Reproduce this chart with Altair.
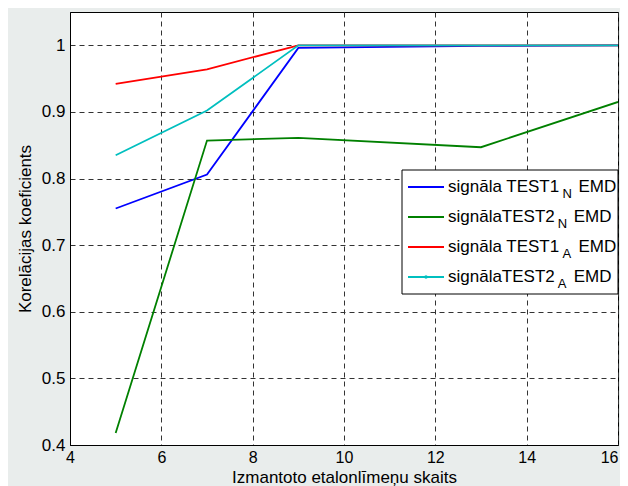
import altair as alt
import pandas as pd

# ---- data ----
counts = [5, 7, 9, 13, 16]
test1_n = [0.755, 0.806, 0.996, 0.999, 1.0]
test2_n = [0.418, 0.857, 0.861, 0.847, 0.915]
test1_a = [0.942, 0.964, 1.0, 1.0, 1.0]
test2_a = [0.835, 0.902, 1.0, 1.0, 1.0]

series_keys = ["TEST1_N", "TEST2_N", "TEST1_A", "TEST2_A"]
series_colors = ["#0000ff", "#008000", "#ff0000", "#00bfbf"]
legend_main = ["signāla TEST1", "signālaTEST2", "signāla TEST1", "signālaTEST2"]
legend_sub = ["N", "N", "A", "A"]
legend_tail = ["EMD", "EMD", "EMD", "EMD"]

x_ticks = [4, 6, 8, 10, 12, 14, 16]
y_ticks = [0.4, 0.5, 0.6, 0.7, 0.8, 0.9, 1.0]

x_title = "Izmantoto etalonlīmeņu skaits"
y_title = "Korelācijas koeficients"

# ---- layout / style ----
W, H = 548, 433
FONT = "Arial, Liberation Sans, sans-serif"
BG = "#e9edec"

x_scale = alt.Scale(domain=[4, 16], nice=False, zero=False)
y_scale = alt.Scale(domain=[0.4, 1.05], nice=False, zero=False)

x_axis = alt.Axis(
    values=x_ticks, title=x_title, grid=True, gridDash=[5, 4], gridColor="#333333",
    gridOpacity=1, gridWidth=1, tickSize=0, domainColor="black", domainWidth=1,
    labelFont=FONT, labelFontSize=16, labelColor="black", labelPadding=4,
    labelOverlap=False, labelFlush=False,
    labelAlign={"condition": {"test": "datum.value >= 16", "value": "right"}, "value": "center"},
    titleFont=FONT, titleFontSize=17, titleFontWeight="normal", titleColor="black",
    titleY=37, titleBaseline="alphabetic",
)
y_axis = alt.Axis(
    values=y_ticks, format="~g", title=y_title, grid=True, gridDash=[5, 4],
    gridColor="#333333", gridOpacity=1, gridWidth=1, tickSize=0, domainColor="black",
    domainWidth=1, labelFont=FONT, labelFontSize=17, labelColor="black", labelPadding=5,
    labelOverlap=False, labelFlush=False,
    titleFont=FONT, titleFontSize=17, titleFontWeight="normal", titleColor="black",
    titleAngle=-90, titleX=-45, titleY=H / 2, titleAlign="center", titleBaseline="middle",
)

series_vals = [test1_n, test2_n, test1_a, test2_a]
line_layers = []
for key, vals, col in zip(series_keys, series_vals, series_colors):
    df = pd.DataFrame({"n": counts, "r": vals, "s": key})
    line_layers.append(
        alt.Chart(df).mark_line(color=col, strokeWidth=1.8, clip=True).encode(
            x=alt.X("n:Q", scale=x_scale, axis=x_axis),
            y=alt.Y("r:Q", scale=y_scale, axis=y_axis),
        )
    )

# ---- custom legend (with subscripts) ----
ARIAL = {"s": 500, "i": 222, "g": 556, "n": 556, "ā": 556, "l": 222, "a": 556, " ": 278,
         "T": 611, "E": 667, "S": 667, "1": 556, "2": 556}
LEG_L, LEG_R, LEG_T, LEG_B = 332, 548, 158, 282
ROW0, ROW_STEP = 17, 30
LEG_FS, SUB_FS = 17, 13
TEXT_X = LEG_L + 46


def text_width(s, fs):
    return sum(ARIAL.get(c, 556) for c in s) * fs / 1000.0


leg = pd.DataFrame({"main": legend_main, "sub": legend_sub, "tail": legend_tail,
                    "color": series_colors})
leg["ly"] = [LEG_T + ROW0 + ROW_STEP * i for i in range(len(leg))]
leg["ty"] = leg["ly"] + 4.5
leg["sy"] = leg["ly"] + 10.5
leg["sx"] = [TEXT_X + text_width(m, LEG_FS) + 3 for m in legend_main]
leg["ex"] = leg["sx"] + 16

box = alt.Chart(pd.DataFrame({"k": [0]})).mark_rect(
    fill="white", stroke="black", strokeWidth=1
).encode(x=alt.value(LEG_L), x2=alt.value(LEG_R), y=alt.value(LEG_T), y2=alt.value(LEG_B))

leg_lines = alt.Chart(leg).mark_rule(strokeWidth=1.8).encode(
    x=alt.value(LEG_L + 6), x2=alt.value(LEG_L + 42),
    y=alt.Y("ly:Q", scale=None), color=alt.Color("color:N", scale=None, legend=None),
)
leg_dot = alt.Chart(leg.iloc[[3]]).mark_point(filled=True, size=12, opacity=1).encode(
    x=alt.value(LEG_L + 24), y=alt.Y("ly:Q", scale=None),
    color=alt.Color("color:N", scale=None, legend=None),
)
leg_main = alt.Chart(leg).mark_text(
    align="left", baseline="alphabetic", font=FONT, fontSize=LEG_FS, color="black"
).encode(x=alt.value(TEXT_X), y=alt.Y("ty:Q", scale=None), text="main:N")
leg_sub = alt.Chart(leg).mark_text(
    align="left", baseline="alphabetic", font=FONT, fontSize=SUB_FS, color="black"
).encode(x=alt.X("sx:Q", scale=None), y=alt.Y("sy:Q", scale=None), text="sub:N")
leg_tail = alt.Chart(leg).mark_text(
    align="left", baseline="alphabetic", font=FONT, fontSize=LEG_FS, color="black"
).encode(x=alt.X("ex:Q", scale=None), y=alt.Y("ty:Q", scale=None), text="tail:N")

chart = alt.layer(
    *line_layers, box, leg_lines, leg_dot, leg_main, leg_sub, leg_tail
).properties(
    width=W, height=H,
    autosize=alt.AutoSizeParams(type="none"),
    padding={"left": 62, "top": 4, "right": 2, "bottom": 44},
    background=BG,
).configure_view(fill="white", stroke="black", strokeWidth=1)

chart.save("out.html", embed_options={"renderer": "svg", "actions": False})
